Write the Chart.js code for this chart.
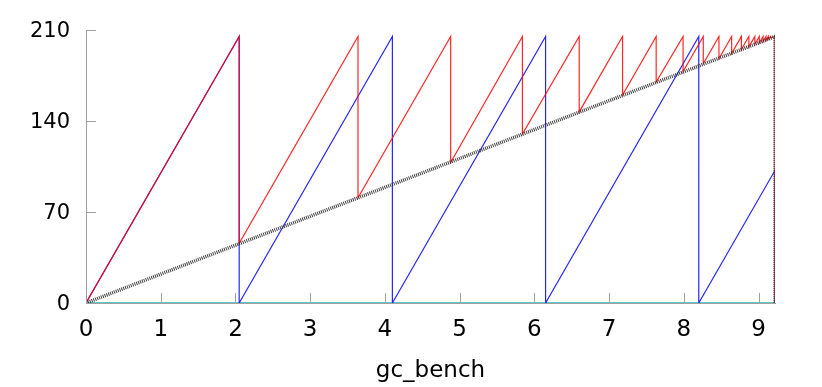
<!DOCTYPE html>
<html>
<head>
<meta charset="utf-8">
<script src="https://cdn.jsdelivr.net/npm/chart.js@4"></script>
<style>
  html, body { margin: 0; padding: 0; background: #fff; }
  #wrap { width: 822px; height: 387px; }
</style>
</head>
<body>
<div id="wrap"><canvas id="chart" width="822" height="387"></canvas></div>
<script>
// values
const xTicks = [0, 1, 2, 3, 4, 5, 6, 7, 8, 9];
const yTicks = [0, 70, 140, 210];

const redX = [0, 2.05, 2.05, 3.64, 3.64, 4.88, 4.88, 5.84, 5.84, 6.6, 6.6, 7.18, 7.18, 7.63, 7.63,
  7.99, 7.99, 8.26, 8.26, 8.47, 8.47, 8.64, 8.64, 8.77, 8.77, 8.87, 8.87, 8.95, 8.95, 9.01, 9.01,
  9.06, 9.06, 9.1, 9.1, 9.13, 9.13, 9.16, 9.16, 9.22, 9.22];
const redY = [0, 205, 46, 205, 81, 205, 108, 205, 130, 205, 147, 205, 160, 205, 170,
  205, 178, 205, 184, 205, 188, 205, 192, 205, 195, 205, 197, 205, 199, 205, 200,
  205, 201, 205, 202, 205, 203, 205, 204, 205, 0];

const blueX = [0, 2.05, 2.05, 4.1, 4.1, 6.15, 6.15, 8.2, 8.2, 9.22, 9.22];
const blueY = [0, 205, 0, 205, 0, 205, 0, 205, 0, 102, 0];

const blackX = [0, 9.22, 9.22];
const blackY = [0, 205, 0];

const tealX = [0, 9.22];
const tealY = [0, 0];

const pts = (xs, ys) => xs.map((x, i) => ({ x, y: ys[i] }));

const FAMILY = "'DejaVu Sans', 'Liberation Sans', sans-serif";
const yFont = { family: FAMILY, size: 21 };
const xFont = { family: FAMILY, size: 23 };

// gnuplot style ticks pointing into the plot
const innerTicks = {
  id: "innerTicks",
  afterDraw(chart) {
    const { ctx, chartArea, scales } = chart;
    ctx.save();
    ctx.strokeStyle = "#a0a0a0";
    ctx.lineWidth = 1;
    ctx.beginPath();
    xTicks.forEach(v => {
      const px = Math.round(scales.x.getPixelForValue(v)) + 0.5;
      ctx.moveTo(px, chartArea.bottom);
      ctx.lineTo(px, chartArea.bottom - 10);
    });
    yTicks.forEach(v => {
      const py = Math.round(scales.y.getPixelForValue(v)) + 0.5;
      ctx.moveTo(chartArea.left, py);
      ctx.lineTo(chartArea.left + 10, py);
    });
    ctx.stroke();
    ctx.restore();
  }
};

new Chart(document.getElementById("chart"), {
  type: "line",
  data: {
    datasets: [
      { label: "black", data: pts(blackX, blackY), borderColor: "rgba(45,45,45,0.9)", borderWidth: 3.5, borderDash: [1, 1] },
      { label: "red", data: pts(redX, redY), borderColor: "rgba(255,0,0,0.85)", borderWidth: 1.2 },
      { label: "blue", data: pts(blueX, blueY), borderColor: "rgba(0,0,255,0.85)", borderWidth: 1.2 },
      { label: "teal", data: pts(tealX, tealY), borderColor: "#22b5b0", borderWidth: 1.6 }
    ]
  },
  options: {
    responsive: false,
    animation: false,
    elements: { point: { radius: 0 }, line: { tension: 0 } },
    layout: { padding: { top: 30, right: 47, bottom: 0, left: 0 } },
    plugins: { legend: { display: false }, tooltip: { enabled: false } },
    scales: {
      x: {
        type: "linear",
        min: 0,
        max: 9.22,
        afterBuildTicks: s => { s.ticks = xTicks.map(value => ({ value })); },
        afterFit: s => { s.height = 84; },
        grid: { display: false, drawTicks: false },
        border: { display: true, color: "#a0a0a0" },
        ticks: { color: "#000", font: xFont, padding: 13, maxRotation: 0 },
        title: { display: true, text: "gc_bench", color: "#000", font: xFont, padding: { top: 4, bottom: 2 } }
      },
      y: {
        min: 0,
        max: 210,
        afterBuildTicks: s => { s.ticks = yTicks.map(value => ({ value })); },
        afterFit: s => { s.width = 86; },
        grid: { display: false, drawTicks: false },
        border: { display: true, color: "#a0a0a0" },
        ticks: { color: "#000", font: yFont, padding: 16, labelOffset: 2 }
      }
    }
  },
  plugins: [innerTicks]
});
</script>
</body>
</html>
